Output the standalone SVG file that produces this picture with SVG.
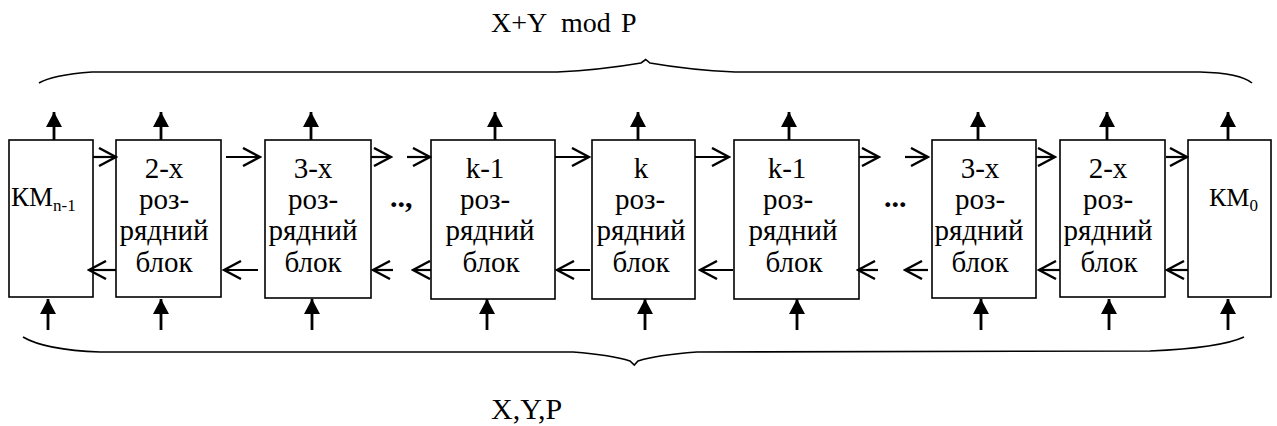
<svg xmlns="http://www.w3.org/2000/svg" width="1277" height="426" viewBox="0 0 1277 426">
  <style>
    .box { fill: #fff; stroke: #000; stroke-width: 1.6; }
    .lbl { font-family: "Liberation Serif", "DejaVu Serif", serif; font-size: 29px; fill: #000; text-anchor: middle; }
    .km { font-family: "Liberation Serif", "DejaVu Serif", serif; fill: #000; }
    .cap { font-family: "Liberation Serif", "DejaVu Serif", serif; fill: #000; }
    .dots { font-family: "Liberation Serif", "DejaVu Serif", serif; font-size: 30px; font-weight: bold; fill: #000; }
    .h { stroke: #000; stroke-width: 2.2; fill: none; }
    .chev { stroke: #000; stroke-width: 2.4; fill: none; stroke-linejoin: miter; }
    .v { stroke: #000; stroke-width: 2.8; }
    .brace { stroke: #000; stroke-width: 1.6; fill: none; }
  </style>
  <defs>
    <marker id="open" viewBox="0 0 20 20" refX="18" refY="10" markerWidth="20" markerHeight="20" markerUnits="userSpaceOnUse" orient="auto">
      <path d="M1,1 L18,10 L1,19" class="chev"/>
    </marker>
    <marker id="solid" viewBox="0 0 16 15" refX="8" refY="0" markerWidth="16" markerHeight="15" markerUnits="userSpaceOnUse" orient="0">
      <path d="M8,0 L16,15 L0,15 Z" fill="#000"/>
    </marker>
  </defs>

  <!-- braces and captions -->
  <g id="output-brace">
    <path class="brace" d="M39,83 Q52,75 92,72 L557,72 Q600,70 641,63 L645.7,59.5 L650,63 Q690,70 735,72 L1200,72 Q1240,73 1252,83"/>
    <text class="cap" font-size="28" y="32"><tspan x="491">X+Y</tspan><tspan x="561">mod</tspan><tspan x="621">P</tspan></text>
  </g>
  <g id="input-brace">
    <path class="brace" d="M23,337 Q45,350 100,352 L573,352 Q612,355 630,361 L634.3,365 L638,361 Q656,355 697,352 L1150,351 Q1220,348 1244,337"/>
    <text class="cap" font-size="30" x="491" y="419">X,Y,P</text>
  </g>

  <!-- blocks -->
  <g id="km-n-1">
    <rect class="box" x="9" y="140" width="84" height="157"/>
    <text class="km" x="11" y="206" font-size="27">КМ<tspan font-size="17" dy="5">n-1</tspan></text>
  </g>
  <g id="block-2-left">
    <rect class="box" x="116" y="140" width="105" height="157"/>
    <text class="lbl" x="164" y="178">2-х</text>
    <text class="lbl" x="164" y="209">роз-</text>
    <text class="lbl" x="164" y="240">рядний</text>
    <text class="lbl" x="164" y="272">блок</text>
  </g>
  <g id="block-3-left">
    <rect class="box" x="265" y="140" width="106" height="158"/>
    <text class="lbl" x="313" y="178">3-х</text>
    <text class="lbl" x="313" y="209">роз-</text>
    <text class="lbl" x="313" y="240">рядний</text>
    <text class="lbl" x="313" y="272">блок</text>
  </g>
  <g id="block-k-1-left">
    <rect class="box" x="431" y="140" width="124" height="159"/>
    <text class="lbl" x="485" y="178">k-1</text>
    <text class="lbl" x="485" y="209">роз-</text>
    <text class="lbl" x="490" y="240">рядний</text>
    <text class="lbl" x="491" y="272">блок</text>
  </g>
  <g id="block-k">
    <rect class="box" x="592" y="140" width="103" height="159"/>
    <text class="lbl" x="641" y="178">k</text>
    <text class="lbl" x="640" y="209">роз-</text>
    <text class="lbl" x="641" y="240">рядний</text>
    <text class="lbl" x="641" y="272">блок</text>
  </g>
  <g id="block-k-1-right">
    <rect class="box" x="734" y="140" width="125" height="159"/>
    <text class="lbl" x="787" y="178">k-1</text>
    <text class="lbl" x="788" y="209">роз-</text>
    <text class="lbl" x="793" y="240">рядний</text>
    <text class="lbl" x="794" y="272">блок</text>
  </g>
  <g id="block-3-right">
    <rect class="box" x="932" y="140" width="104" height="158"/>
    <text class="lbl" x="980" y="178">3-х</text>
    <text class="lbl" x="980" y="209">роз-</text>
    <text class="lbl" x="979" y="240">рядний</text>
    <text class="lbl" x="980" y="272">блок</text>
  </g>
  <g id="block-2-right">
    <rect class="box" x="1060" y="140" width="105" height="157"/>
    <text class="lbl" x="1108" y="178">2-х</text>
    <text class="lbl" x="1108" y="209">роз-</text>
    <text class="lbl" x="1108" y="240">рядний</text>
    <text class="lbl" x="1109" y="272">блок</text>
  </g>
  <g id="km-0">
    <rect class="box" x="1188" y="140" width="83" height="157"/>
    <text class="km" x="1209" y="206" font-size="26">КМ<tspan font-size="17" dy="5">0</tspan></text>
  </g>

  <!-- ellipses between blocks -->
  <g id="gaps">
    <text class="dots" x="390" y="207">..,</text>
    <text class="dots" x="884" y="207">...</text>
  </g>

  <!-- connectors -->
  <g id="connectors">
    <!-- upper row, pointing right -->
    <line class="h" marker-end="url(#open)" x1="93" y1="157" x2="116" y2="157"/>
    <line class="h" marker-end="url(#open)" x1="226" y1="157" x2="260" y2="157"/>
    <line class="h" marker-end="url(#open)" x1="371" y1="157" x2="391" y2="157"/>
    <line class="h" marker-end="url(#open)" x1="407" y1="157" x2="430" y2="157"/>
    <line class="h" marker-end="url(#open)" x1="555" y1="157" x2="589" y2="157"/>
    <line class="h" marker-end="url(#open)" x1="695" y1="157" x2="729" y2="157"/>
    <line class="h" marker-end="url(#open)" x1="859" y1="157" x2="879" y2="157"/>
    <line class="h" marker-end="url(#open)" x1="905" y1="157" x2="928" y2="157"/>
    <line class="h" marker-end="url(#open)" x1="1036" y1="157" x2="1055" y2="157"/>
    <line class="h" marker-end="url(#open)" x1="1166" y1="157" x2="1187" y2="157"/>
    <!-- lower row, pointing left -->
    <line class="h" marker-end="url(#open)" x1="116" y1="270" x2="89" y2="270"/>
    <line class="h" marker-end="url(#open)" x1="258" y1="270" x2="224" y2="270"/>
    <line class="h" marker-end="url(#open)" x1="393" y1="270" x2="373" y2="270"/>
    <line class="h" marker-end="url(#open)" x1="431" y1="270" x2="413" y2="270"/>
    <line class="h" marker-end="url(#open)" x1="590" y1="270" x2="557" y2="270"/>
    <line class="h" marker-end="url(#open)" x1="733" y1="270" x2="700" y2="270"/>
    <line class="h" marker-end="url(#open)" x1="878" y1="270" x2="858" y2="270"/>
    <line class="h" marker-end="url(#open)" x1="928" y1="270" x2="905" y2="270"/>
    <line class="h" marker-end="url(#open)" x1="1060" y1="270" x2="1039" y2="270"/>
    <line class="h" marker-end="url(#open)" x1="1188" y1="270" x2="1167" y2="270"/>
    <!-- outputs -->
    <line class="v" marker-end="url(#solid)" x1="54" y1="140" x2="54" y2="112"/>
    <line class="v" marker-end="url(#solid)" x1="161" y1="140" x2="161" y2="112"/>
    <line class="v" marker-end="url(#solid)" x1="311" y1="140" x2="311" y2="112"/>
    <line class="v" marker-end="url(#solid)" x1="495" y1="140" x2="495" y2="112"/>
    <line class="v" marker-end="url(#solid)" x1="638" y1="140" x2="638" y2="112"/>
    <line class="v" marker-end="url(#solid)" x1="789" y1="140" x2="789" y2="112"/>
    <line class="v" marker-end="url(#solid)" x1="978" y1="140" x2="978" y2="112"/>
    <line class="v" marker-end="url(#solid)" x1="1107" y1="140" x2="1107" y2="112"/>
    <line class="v" marker-end="url(#solid)" x1="1228" y1="140" x2="1228" y2="112"/>
    <!-- inputs -->
    <line class="v" marker-end="url(#solid)" x1="48" y1="330" x2="48" y2="299"/>
    <line class="v" marker-end="url(#solid)" x1="161" y1="330" x2="161" y2="299"/>
    <line class="v" marker-end="url(#solid)" x1="312" y1="330" x2="312" y2="299"/>
    <line class="v" marker-end="url(#solid)" x1="487" y1="330" x2="487" y2="299"/>
    <line class="v" marker-end="url(#solid)" x1="645" y1="330" x2="645" y2="299"/>
    <line class="v" marker-end="url(#solid)" x1="797" y1="330" x2="797" y2="299"/>
    <line class="v" marker-end="url(#solid)" x1="981" y1="330" x2="981" y2="299"/>
    <line class="v" marker-end="url(#solid)" x1="1109" y1="330" x2="1109" y2="299"/>
    <line class="v" marker-end="url(#solid)" x1="1228" y1="330" x2="1228" y2="299"/>
  </g>
</svg>
